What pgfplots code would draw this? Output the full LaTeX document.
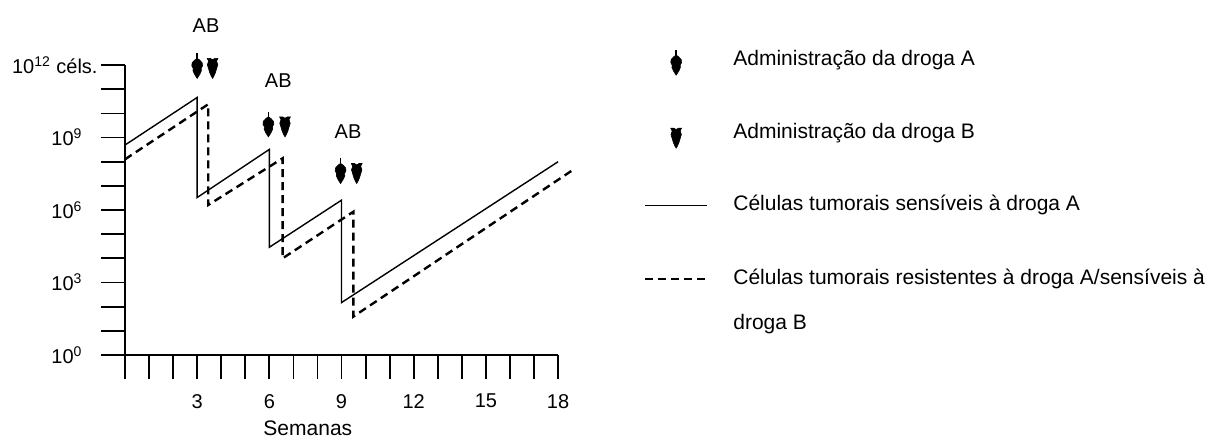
\documentclass[border=0pt]{standalone}
\usepackage{pgfplots}
\pgfplotsset{compat=1.18}
\usepackage{fontspec}
\setmainfont{Liberation Sans}

\newcommand\pp[2]{\pgfpathlineto{\pgfqpoint{#1pt}{#2pt}}}
\pgfdeclareplotmark{drugA}{%
  \pgfsetlinewidth{0.7pt}%
  \pgfpathmoveto{\pgfqpoint{0pt}{12.5pt}}\pgfpathlineto{\pgfqpoint{0pt}{9pt}}\pgfusepathqstroke
  \pgfsetlinewidth{0.3pt}%
  \pgfpathmoveto{\pgfqpoint{0pt}{10pt}}%
  \pp{1.2}{9.2}\pp{2.5}{7.8}\pp{2.7}{6.3}\pp{2.0}{5.0}\pp{2.1}{3.8}\pp{1.4}{2.2}\pp{0.6}{0.9}\pp{0}{0}%
  \pp{-0.6}{0.9}\pp{-1.4}{2.2}\pp{-2.1}{3.8}\pp{-2.0}{5.0}\pp{-2.7}{6.3}\pp{-2.5}{7.8}\pp{-1.2}{9.2}%
  \pgfpathclose\pgfusepathqfillstroke}
\pgfdeclareplotmark{drugB}{%
  \pgfsetlinewidth{0.3pt}%
  \pgfpathmoveto{\pgfqpoint{-2.7pt}{10pt}}%
  \pp{-1.2}{10}\pp{0}{9.3}\pp{1.2}{10}\pp{2.7}{10}\pp{2.0}{8.6}\pp{2.6}{6.8}\pp{2.0}{4.8}\pp{1.4}{2.8}\pp{0.6}{1.0}\pp{0}{0}%
  \pp{-0.6}{1.0}\pp{-1.4}{2.8}\pp{-2.0}{4.8}\pp{-2.6}{6.8}\pp{-2.0}{8.6}%
  \pgfpathclose\pgfusepathqfillstroke}

\pgfplotsset{
  legA/.style={legend image code/.code={\begin{pgfscope}\pgftransformshift{\pgfqpoint{15.5pt}{-5pt}}\pgfsetfillcolor{black}\pgfsetstrokecolor{black}\pgfuseplotmark{drugA}\end{pgfscope}}},
  legB/.style={legend image code/.code={\begin{pgfscope}\pgftransformshift{\pgfqpoint{15.5pt}{-5pt}}\pgfsetfillcolor{black}\pgfsetstrokecolor{black}\pgfuseplotmark{drugB}\end{pgfscope}}},
  legSolid/.style={legend image code/.code={\draw[black, line width=0.7pt] (0pt,2.7pt) -- (31pt,2.7pt);}},
  legDash/.style={legend image code/.code={\draw[black, line width=1.2pt, dash pattern=on 4pt off 2.5pt] (0pt,2.7pt) -- (31pt,2.7pt);}},
}

\begin{document}
\begin{tikzpicture}
\begin{axis}[
  at={(0,0)}, anchor=origin,
  x=12.03pt, y=12.08pt,
  xmin=0, xmax=18, ymin=0, ymax=12,
  clip=false,
  axis lines=left,
  axis line style={-, line width=0.9pt},
  tick style={line width=0.9pt, black},
  tick align=outside,
  major tick length=12pt,
  xtick={0,...,18},
  xticklabels={{},{},{},3,{},{},6,{},{},9,{},{},12,{},{},15,{},{},18},
  ytick={0,...,12},
  yticklabels={10\textsuperscript{0},{},{},10\textsuperscript{3},{},{},10\textsuperscript{6},{},{},10\textsuperscript{9},{},{},10\textsuperscript{12} céls.\kern-7.5pt},
  tick label style={font=\fontsize{10}{12}\selectfont},
  xticklabel style={yshift=-4pt},
  yticklabel style={xshift=-5.7pt},
  xlabel={Semanas},
  xlabel style={at={(axis description cs:0.4222,-0.279)}, anchor=base, font=\fontsize{10.5}{12.6}\selectfont},
  legend style={at={(axis description cs:1.1983,1.055)}, anchor=north west, draw=none, fill=none,
    inner sep=0pt, outer sep=0pt, row sep=0pt, column sep=12.5pt,
    cells={anchor=base west}, nodes={inner sep=0pt, text depth=},
    font=\fontsize{10.5}{12.6}\selectfont},
]
\addplot[only marks, mark=drugA, black, mark options={black, fill=black}, legA]
  coordinates {(3,11.45) (5.96,9.03) (8.96,7.1)};
\addlegendentry{\rule[-28.5pt]{0pt}{36.5pt}Administração da droga A}
\addplot[only marks, mark=drugB, black, mark options={black, fill=black}, legB]
  coordinates {(3.64,11.45) (6.65,9.03) (9.63,7.1)};
\addlegendentry{\rule[-28.25pt]{0pt}{36.25pt}Administração da droga B}
\addplot[black, line width=0.7pt, legSolid]
  coordinates {(0,8.69) (3,10.66) (3,6.52) (6,8.51) (6,4.46) (9,6.41) (9,2.17) (18,8.0)};
\addlegendentry{\rule[-29pt]{0pt}{37pt}Células tumorais sensíveis à droga A}
\addplot[black, line width=1.2pt, dash pattern=on 4pt off 2.5pt, legDash]
  coordinates {(0,8.10) (3.46,10.38) (3.46,6.21) (6.55,8.14) (6.55,4.0) (9.49,5.93) (9.49,1.59) (18.57,7.63)};
\addlegendentry{\rule[-14.5pt]{0pt}{22.5pt}Células tumorais resistentes à droga A/sensíveis à}
\addlegendimage{empty legend}
\addlegendentry{\rule[-3pt]{0pt}{11pt}droga B}
\node[font=\fontsize{10}{12}\selectfont] at (axis cs:3.37,13.65) {AB};
\node[font=\fontsize{10}{12}\selectfont] at (axis cs:6.37,11.34) {AB};
\node[font=\fontsize{10}{12}\selectfont] at (axis cs:9.27,9.23) {AB};
\end{axis}
\pgfresetboundingbox
\path[use as bounding box] (-62.5pt,-42pt) rectangle (542pt,177.5pt);
\end{tikzpicture}
\end{document}
